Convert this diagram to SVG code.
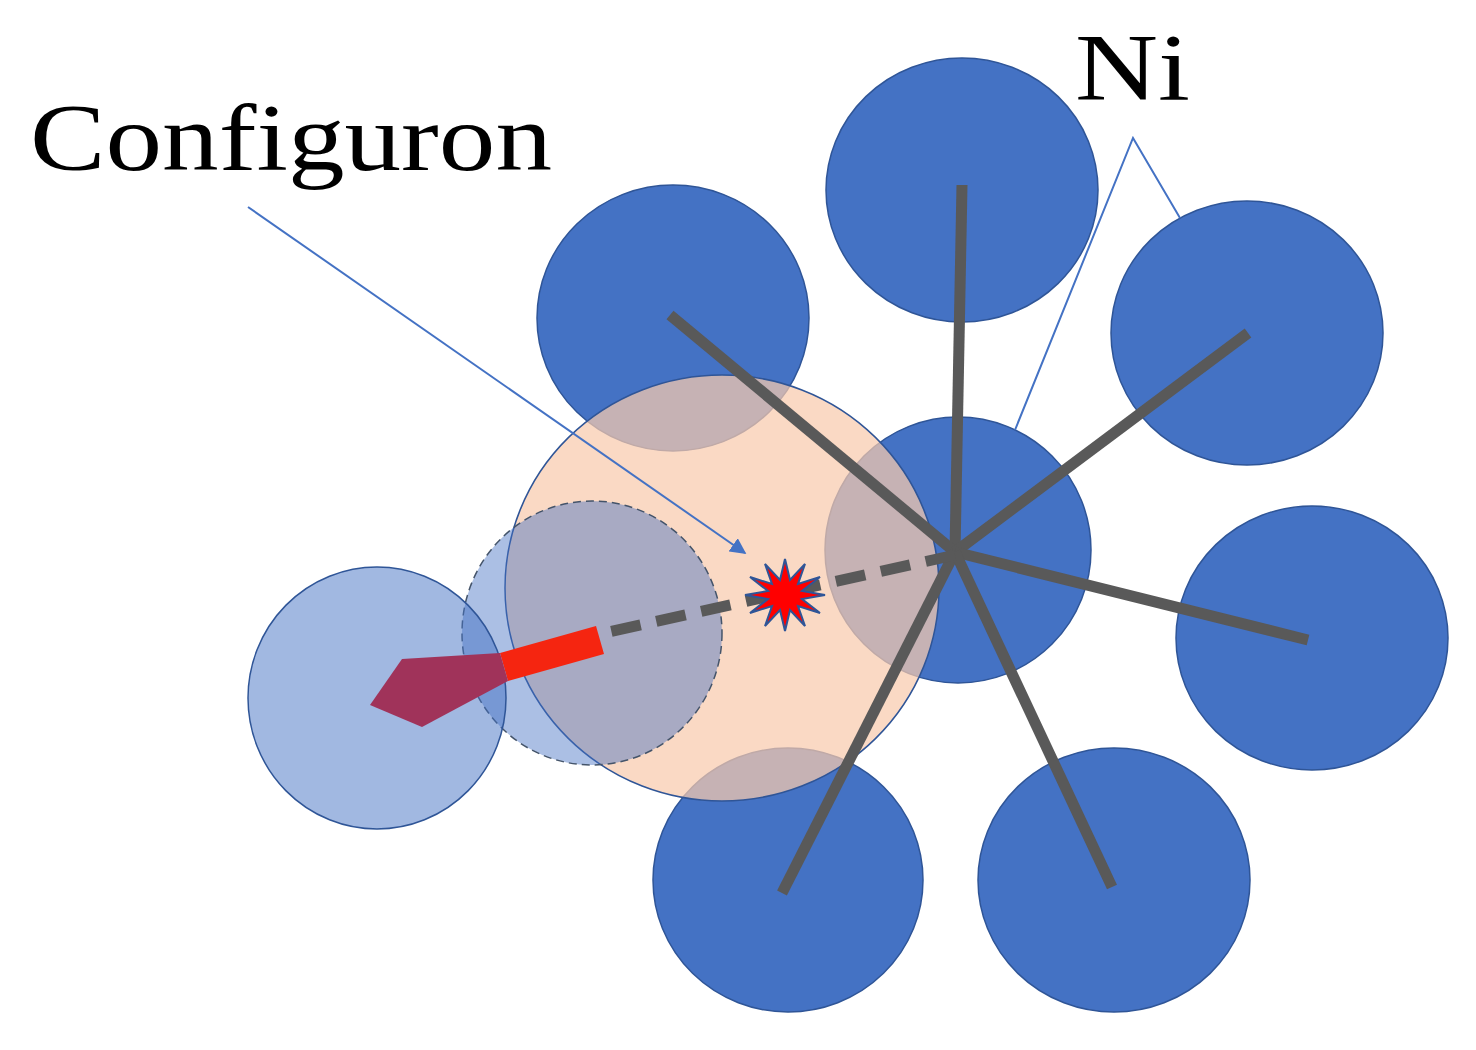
<svg xmlns="http://www.w3.org/2000/svg" width="1476" height="1050" viewBox="0 0 1476 1050">
<defs>
<style>
.ni{fill:#4472C4;stroke:#2F5597;stroke-width:1.5}
.bond{stroke:#595959;stroke-width:11;fill:none}
.lbl{font-family:"Liberation Serif",serif;fill:#000}
.ptr{stroke:#4472C4;stroke-width:2;fill:none}
</style>
<marker id="ah" viewBox="0 0 10 10" refX="9" refY="5" markerWidth="8" markerHeight="8" orient="auto"><path d="M0,0L10,5L0,10z" fill="#4472C4"/></marker>
</defs>
<rect width="1476" height="1050" fill="#fff"/>
<g id="atoms">
<ellipse id="ni1" class="ni" cx="962" cy="190" rx="136" ry="132"/>
<ellipse id="ni2" class="ni" cx="673" cy="318" rx="136" ry="133"/>
<ellipse id="ni3" class="ni" cx="1247" cy="333" rx="136" ry="132"/>
<ellipse id="ni4" class="ni" cx="958" cy="550" rx="133" ry="133"/>
<ellipse id="ni5" class="ni" cx="1312" cy="638" rx="136" ry="132"/>
<ellipse id="ni6" class="ni" cx="788" cy="880" rx="135" ry="132"/>
<ellipse id="ni7" class="ni" cx="1114" cy="880" rx="136" ry="132"/>
</g>
<g id="configuron">
<ellipse cx="722" cy="588" rx="217" ry="213" fill="#F8CBAD" fill-opacity="0.72" stroke="#2F5597" stroke-width="1.5"/>
</g>
<g id="moving">
<ellipse cx="592" cy="633" rx="130" ry="132" fill="#4472C4" fill-opacity="0.45" stroke="#44546A" stroke-width="1.5" stroke-dasharray="8,5"/>
<ellipse cx="377" cy="698" rx="129" ry="131" fill="#4472C4" fill-opacity="0.5" stroke="#2F5597" stroke-width="1.5"/>
</g>
<g id="connectors">
<line class="bond" x1="955" y1="552" x2="962" y2="185"/>
<line class="bond" x1="955" y1="552" x2="670" y2="315"/>
<line class="bond" x1="955" y1="552" x2="1248" y2="333"/>
<line class="bond" x1="955" y1="552" x2="1308" y2="640"/>
<line class="bond" x1="955" y1="552" x2="782" y2="893"/>
<line class="bond" x1="955" y1="552" x2="1112" y2="887"/>
<line class="bond" x1="955" y1="555" x2="590" y2="636" stroke-dasharray="30,16"/>
<polygon points="604,654 596,626 500,653 508,681" fill="#F52510"/>
<polygon points="508,681 500,653 402,659 370,705 422,727" fill="#A0335A"/>
<line class="ptr" x1="248" y1="207" x2="745" y2="553" marker-end="url(#ah)"/>
<polyline class="ptr" points="1015,430 1133,138 1180,218"/>
</g>
<g id="defect">
<polygon points="825,595 802,599 820,613 798,606 805,626 790,610 785,631 780,610 765,626 772,606 750,613 768,599 745,595 768,591 750,577 772,584 765,564 780,580 785,559 790,580 805,564 798,584 820,577 802,591" fill="#FF0000" stroke="#2F5597" stroke-width="2"/>
</g>
<g id="labels">
<text class="lbl" x="30" y="170" font-size="95" textLength="522" lengthAdjust="spacingAndGlyphs">Configuron</text>
<text class="lbl" x="1075" y="100" font-size="95" textLength="115" lengthAdjust="spacingAndGlyphs">Ni</text>
</g>
</svg>
